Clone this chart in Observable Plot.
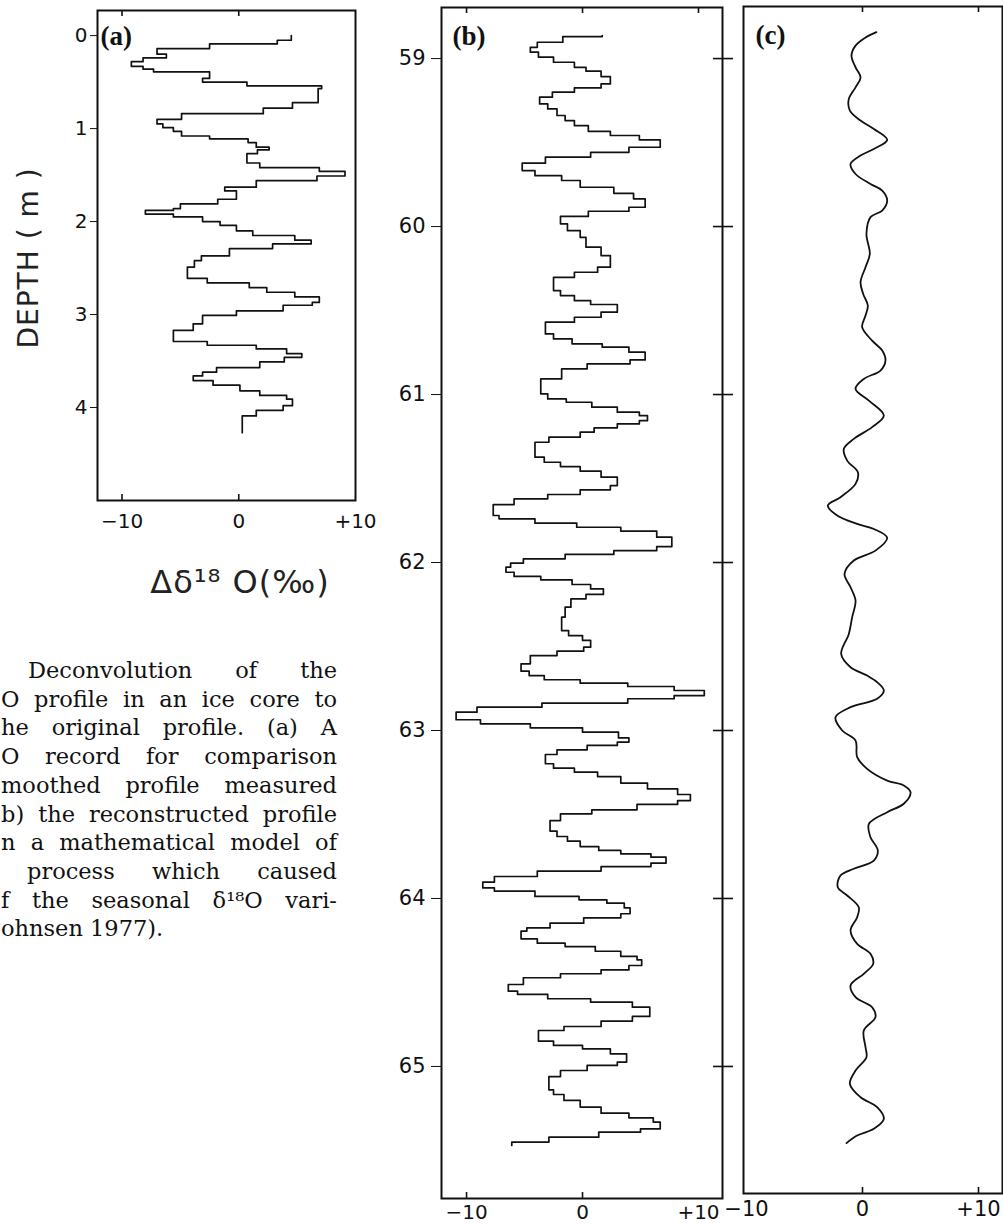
<!DOCTYPE html>
<html>
<head>
<meta charset="utf-8">
<script src="https://cdn.jsdelivr.net/npm/d3@7"></script>
<script src="https://cdn.jsdelivr.net/npm/@observablehq/plot@0.6"></script>
<style>
  html, body { margin: 0; padding: 0; background: #fff; }
  #root { position: relative; width: 1003px; height: 1225px; overflow: hidden; background: #fff; }
  .panel { position: absolute; top: 0; }
  .panel svg { overflow: visible; display: block; max-width: none !important; }
  .caption { position: absolute; left: 0; top: 0; width: 360px; height: 1225px; overflow: hidden;
             font-family: "DejaVu Serif", serif; font-size: 22.5px; color: #111; }
  .cline { position: absolute; display: flex; justify-content: space-between; white-space: nowrap; line-height: 28px; }
  .ylab { position: absolute; font-family: "DejaVu Sans", sans-serif; font-size: 28px; font-weight: 400;
          transform: translate(-50%, -50%) rotate(-90deg); white-space: nowrap; letter-spacing: 1px; color: #222; }
  .xlab { position: absolute; font-family: "DejaVu Sans", sans-serif; font-size: 32px; font-weight: 400;
          transform: translate(-50%, -50%); white-space: nowrap; color: #222; letter-spacing: 1px; }
</style>
</head>
<body>
<div id="root"></div>
<script>
// ---------------- data ----------------
// Panel (a): surface record, sample top depths (m) and Δδ18O (‰)
const depthA = [0, 0.05, 0.09, 0.14, 0.20, 0.24, 0.28, 0.33, 0.36, 0.39,
  0.46, 0.50, 0.54, 0.57, 0.72, 0.78, 0.84, 0.90, 0.95, 0.99,
  1.03, 1.08, 1.11, 1.15, 1.20, 1.23, 1.27, 1.37, 1.42, 1.46,
  1.51, 1.56, 1.63, 1.67, 1.76, 1.81, 1.86, 1.88, 1.92, 1.95,
  2.00, 2.04, 2.10, 2.15, 2.20, 2.24, 2.29, 2.37, 2.42, 2.49,
  2.61, 2.66, 2.71, 2.76, 2.81, 2.87, 2.90, 2.96, 3.01, 3.10,
  3.17, 3.29, 3.33, 3.37, 3.42, 3.46, 3.51, 3.57, 3.62, 3.66,
  3.71, 3.76, 3.82, 3.87, 3.91, 3.98, 4.03, 4.09];
const valueA = [4.5, 3.3, -2.5, -7.0, -6.2, -8.2, -9.2, -8.2, -7.3, -2.5,
  -3.1, 0.7, 7.1, 6.8, 4.6, 2.1, -4.9, -7.0, -6.5, -5.6,
  -4.9, -2.5, 0.8, 1.5, 2.6, 1.6, 0.7, 1.8, 6.9, 9.1,
  6.7, 1.5, -1.2, -0.2, -1.8, -5.0, -5.6, -8.0, -5.6, -3.1,
  -1.6, -0.2, 1.2, 4.8, 6.2, 2.9, -0.8, -3.2, -3.8, -4.4,
  -2.7, 0.9, 2.4, 4.8, 6.9, 6.3, 3.8, -0.2, -3.1, -3.9,
  -5.6, -2.7, 1.5, 4.1, 5.4, 3.9, 1.8, -1.9, -3.1, -3.9,
  -2.2, 0.1, 1.8, 4.1, 4.6, 3.8, 1.5, 0.3];
const depthAEnd = 4.27;

// Panel (b): reconstructed profile, sample top depths (m) and Δδ18O (‰)
const depthB = [58.863, 58.869, 58.903, 58.933, 58.962, 58.992, 59.022, 59.052, 59.075, 59.107,
  59.151, 59.175, 59.200, 59.230, 59.270, 59.300, 59.339, 59.369, 59.399, 59.433,
  59.458, 59.484, 59.528, 59.558, 59.587, 59.623, 59.667, 59.697, 59.726, 59.766,
  59.802, 59.835, 59.885, 59.909, 59.940, 59.984, 60.024, 60.064, 60.123, 60.173,
  60.242, 60.272, 60.302, 60.381, 60.411, 60.441, 60.464, 60.510, 60.540, 60.569,
  60.639, 60.669, 60.698, 60.718, 60.748, 60.794, 60.817, 60.847, 60.907, 60.996, 61.026,
  61.046, 61.075, 61.105, 61.125, 61.155, 61.175, 61.198, 61.224, 61.254, 61.284,
  61.373, 61.403, 61.429, 61.456, 61.492, 61.542, 61.567, 61.595, 61.621, 61.655,
  61.720, 61.740, 61.766, 61.790, 61.813, 61.849, 61.905, 61.929, 61.952, 61.978,
  62.004, 62.028, 62.058, 62.083, 62.103, 62.131, 62.157, 62.190, 62.216, 62.266,
  62.325, 62.405, 62.435, 62.464, 62.504, 62.528, 62.554, 62.603, 62.647, 62.673,
  62.698, 62.718, 62.738, 62.762, 62.792, 62.811, 62.837, 62.861, 62.891, 62.936,
  62.960, 62.984, 63.010, 63.044, 63.069, 63.089, 63.115, 63.143, 63.198, 63.224,
  63.248, 63.274, 63.313, 63.347, 63.381, 63.417, 63.440, 63.472, 63.496,
  63.536, 63.599, 63.631, 63.659, 63.691, 63.714, 63.734, 63.754, 63.790, 63.810,
  63.837, 63.869, 63.903, 63.937, 63.956, 63.988, 64.008, 64.028, 64.056, 64.091,
  64.115, 64.147, 64.175, 64.194, 64.240, 64.266, 64.286, 64.314, 64.345, 64.365,
  64.399, 64.425, 64.448, 64.472, 64.512, 64.552, 64.571, 64.597, 64.617, 64.647,
  64.702, 64.730, 64.762, 64.786, 64.849, 64.875, 64.895, 64.925, 64.974, 64.994,
  65.024, 65.060, 65.139, 65.167, 65.202, 65.242, 65.278, 65.306, 65.331, 65.371,
  65.391, 65.421, 65.450];
const valueB = [1.7, -1.7, -3.9, -4.5, -3.8, -2.5, -0.7, 0.3, 1.6, 2.4,
  1.6, -0.7, -2.6, -3.7, -3.0, -2.2, -1.5, -0.7, 0.5, 2.4,
  4.9, 6.7, 4.0, 0.7, -3.2, -5.2, -4.1, -1.8, -0.2, 2.7,
  4.4, 5.4, 4.0, 0.5, -1.9, -1.3, -0.2, 0.3, 1.6, 2.4,
  1.3, -0.7, -2.5, -1.9, -0.7, 0.7, 3.0, 1.6, -0.7, -3.2,
  -2.5, -0.9, 1.7, 4.0, 5.4, 4.1, 0.4, -1.8, -3.6, -3.0, -1.4,
  0.8, 3.0, 4.9, 5.6, 4.9, 3.0, 1.0, -0.2, -2.9, -4.1,
  -3.3, -1.9, -0.2, 1.6, 3.0, 2.4, -0.2, -3.0, -5.9, -7.7,
  -7.2, -4.1, -0.5, 3.3, 6.4, 7.7, 6.4, 2.7, -1.5, -5.1,
  -6.2, -6.6, -5.9, -3.6, -0.9, 0.7, 1.8, 0.3, -1.0, -1.5,
  -1.8, -1.2, 0.0, 0.7, 0.1, -2.2, -4.5, -5.3, -4.6, -3.3,
  -0.2, 3.9, 7.9, 10.5, 7.9, 3.9, -3.5, -9.1, -10.9, -8.8,
  -4.5, 0.0, 3.1, 4.0, 3.0, 0.4, -2.2, -3.2, -2.5, -0.7,
  1.3, 3.3, 5.6, 8.2, 9.3, 8.2, 4.7, 0.8, -1.9,
  -2.8, -2.2, -1.3, -0.2, 1.4, 3.3, 5.9, 7.2, 5.9, 1.6,
  -3.9, -7.6, -8.6, -7.6, -4.1, -0.3, 2.1, 3.6, 4.1, 3.3,
  0.1, -2.8, -4.8, -5.3, -3.9, -1.5, 1.1, 3.3, 4.7, 5.1,
  4.0, 1.6, -1.9, -5.1, -6.4, -5.6, -3.0, 0.7, 4.3, 5.8,
  4.3, 1.6, -1.6, -3.8, -2.5, 0.0, 2.4, 3.8, 3.0, 0.4,
  -1.9, -2.9, -2.5, -1.6, -0.2, 1.6, 4.0, 6.1, 6.7, 5.0,
  1.4, -2.9, -6.1];
const depthBEnd = 65.47;

// Panel (c): smoothed (measured) profile
const depthC = [58.843, 58.873, 58.923, 58.982, 59.052, 59.111, 59.171, 59.240, 59.310, 59.369,
  59.419, 59.484, 59.538, 59.577, 59.627, 59.687, 59.746, 59.786, 59.845, 59.905,
  59.944, 60.044, 60.163, 60.242, 60.331, 60.401, 60.470, 60.530, 60.599, 60.679,
  60.738, 60.798, 60.857, 60.907, 60.966, 61.036,
  61.125, 61.194, 61.264, 61.323, 61.393, 61.462, 61.532, 61.611, 61.661, 61.720,
  61.770, 61.800, 61.853, 61.929, 61.988, 62.067, 62.147, 62.226, 62.325, 62.425,
  62.544, 62.623, 62.673, 62.712, 62.762, 62.811, 62.861, 62.921, 63.000, 63.060,
  63.158, 63.228, 63.298, 63.327, 63.367, 63.436, 63.486,
  63.556, 63.635, 63.714, 63.774, 63.823, 63.863, 63.933, 63.982, 64.052, 64.111,
  64.190, 64.270, 64.329, 64.389, 64.448, 64.518, 64.587, 64.647, 64.706, 64.786,
  64.885, 64.945, 65.024, 65.103, 65.183, 65.242, 65.312, 65.371, 65.411, 65.456];
const valueC = [1.2, 0.3, -0.6, -0.95, -0.6, -0.17, -0.6, -1.18, -1.09, -0.17,
  0.98, 2.13, 0.98, -0.17, -1.03, -0.6, 0.69, 1.70, 2.13, 1.70,
  0.69, 0.34, 0.63, 0.26, -0.17, 0.06, 0.46, 0.26, -0.03, 0.83,
  1.70, 1.98, 1.55, 0.11, -0.6, 0.55,
  1.84, 0.83, -0.75, -1.61, -1.32, -0.40, -0.6, -1.90, -2.99, -2.18,
  -0.46, 0.98, 2.13, 1.12, -0.75, -1.55, -1.03, -0.6, -0.89, -1.18,
  -1.84, -1.03, 0.40, 1.26, 1.84, 1.26, -1.03, -2.33, -1.75, -0.6,
  -0.46, 0.40, 2.13, 3.56, 4.14, 3.56, 2.13,
  0.55, 0.69, 1.32, 0.98, -0.75, -1.90, -2.13, -1.32, -0.32, -0.46,
  -1.03, -0.46, 0.69, 0.92, 0.11, -1.03, -0.6, 0.83, 1.12, 0.11,
  0.26, 0.34, -0.6, -1.09, -0.17, 1.26, 1.84, 0.98, -0.46, -1.38];

// ticks and labels
const depthTicksA = [0, 1, 2, 3, 4];
const depthTicksB = [59, 60, 61, 62, 63, 64, 65];
const valueTicks = [-10, 0, 10];
const valueTickLabels = ["\u221210", "0", "+10"];
const innerTicksA = [-10, 0];
const innerTicksC = [0, 10];
const panelLabels = ["(a)", "(b)", "(c)"];
const yTitle = "DEPTH ( m )";
const xTitle = "Δδ¹⁸ O(‰)";
const captionLines = [
  "Deconvolution of the",
  "O profile in an ice core to",
  "he original profile. (a) A",
  "O record for comparison",
  "moothed profile measured",
  "b) the reconstructed profile",
  "n a mathematical model of",
  "process which caused",
  "f the seasonal δ¹⁸O vari-",
  "ohnsen 1977)."
];

// ---------------- helpers ----------------
const stepRows = (depths, values, end) =>
  depths.map((d, i) => ({d, v: values[i]})).concat([{d: end, v: values[values.length - 1]}]);
const rowsA = stepRows(depthA, valueA, depthAEnd);
const rowsB = stepRows(depthB, valueB, depthBEnd);
const rowsC = depthC.map((d, i) => ({d, v: valueC[i]}));
const tickRows = valueTicks.map((t, i) => ({t, label: valueTickLabels[i]}));

const intFmt = d => String(d);
const baseStyle = {fontFamily: "'DejaVu Sans', sans-serif", fontSize: "20px", color: "#111", background: "transparent", overflow: "visible"};
const labelText = (s, dx, dy) => Plot.text([s], {text: d => d, frameAnchor: "top-left", textAnchor: "start", lineAnchor: "middle",
  dx, dy, fontSize: 27, fontWeight: "bold", fontFamily: "'Liberation Serif', serif", letterSpacing: 3, fill: "#111"});
const innerTicks = (ticks, yDomain) => [
  Plot.ruleX(ticks, {x: d => d, y1: yDomain[0], y2: yDomain[0], insetBottom: -6, stroke: "#111", strokeWidth: 1.6}),
  Plot.ruleX(ticks, {x: d => d, y1: yDomain[1], y2: yDomain[1], insetTop: -6, stroke: "#111", strokeWidth: 1.6})
];
const bottomLabels = (yDomain, pad, size) => Plot.text(tickRows, {x: "t", y: () => yDomain[1], text: "label",
  textAnchor: "middle", lineAnchor: "top", dy: pad, fontSize: size, fill: "#111"});

// ---------------- panel (a) ----------------
const yDomA = [-0.27, 5.0];
const plotA = Plot.plot({
  width: 380, height: 540, marginLeft: 97, marginRight: 25, marginTop: 10, marginBottom: 40,
  style: baseStyle,
  x: {domain: [-12.1, 10], axis: null},
  y: {domain: yDomA, reverse: true, axis: null},
  marks: [
    Plot.axisY(depthTicksA, {anchor: "left", tickSize: 7, tickPadding: 3, tickFormat: intFmt, label: null, fontSize: 20}),
    bottomLabels(yDomA, 13, 20),
    ...innerTicks(innerTicksA, yDomA),
    Plot.frame({stroke: "#111", strokeWidth: 2}),
    Plot.line(rowsA, {x: "v", y: "d", curve: "step-before", stroke: "#111", strokeWidth: 1.7}),
    labelText(panelLabels[0], 3, 26)
  ]
});

// ---------------- panel (b) ----------------
const yDomB = [58.696, 65.786];
const plotB = Plot.plot({
  width: 360, height: 1225, marginLeft: 61, marginRight: 18, marginTop: 7, marginBottom: 27,
  style: baseStyle,
  x: {domain: [-12.16, 12.07], axis: null},
  y: {domain: yDomB, reverse: true, axis: null},
  marks: [
    Plot.axisY(depthTicksB, {anchor: "left", tickSize: 10, tickPadding: 6, tickFormat: intFmt, label: null, fontSize: 21}),
    Plot.axisY(depthTicksB, {anchor: "right", tickSize: 10, tickFormat: () => "", label: null, strokeWidth: 1.6}),
    Plot.axisY(depthTicksB, {anchor: "right", tickSize: -10, tickFormat: () => "", label: null, strokeWidth: 1.6}),
    bottomLabels(yDomB, 6, 20),
    Plot.ruleX(valueTicks, {x: d => d, y1: yDomB[0], y2: yDomB[0], insetBottom: -6, stroke: "#111", strokeWidth: 1.6}),
    Plot.ruleX(innerTicksA, {x: d => d, y1: yDomB[1], y2: yDomB[1], insetTop: -6, stroke: "#111", strokeWidth: 1.6}),
    Plot.frame({stroke: "#111", strokeWidth: 2}),
    Plot.line(rowsB, {x: "v", y: "d", curve: "step-before", stroke: "#111", strokeWidth: 1.7}),
    labelText(panelLabels[1], 11, 29)
  ]
});

// ---------------- panel (c) ----------------
const yDomC = [58.690, 65.756];
const plotC = Plot.plot({
  width: 263, height: 1225, marginLeft: 3, marginRight: 1, marginTop: 6, marginBottom: 32,
  style: baseStyle,
  x: {domain: [-10.26, 12.07], axis: null},
  y: {domain: yDomC, reverse: true, axis: null},
  marks: [
    Plot.frame({stroke: "#111", strokeWidth: 2}),
    ...innerTicks(innerTicksC, yDomC),
    Plot.line(rowsC, {x: "v", y: "d", curve: "catmull-rom", stroke: "#111", strokeWidth: 1.8}),
    labelText(panelLabels[2], 12, 29),
    bottomLabels(yDomC, 8, 21)
  ]
});

// ---------------- layout ----------------
const root = document.getElementById("root");

const cap = document.createElement("div");
cap.className = "caption";
const capLeft = [28, 1, 1, 1, 1, 1, 1, 27, 1, 1];
const capRight = 337;
captionLines.forEach((line, k) => {
  const el = document.createElement("div");
  el.className = "cline";
  el.style.left = capLeft[k] + "px";
  el.style.top = (672 + 28.7 * k - 16) + "px";
  if (k < captionLines.length - 1) {
    el.style.width = (capRight - capLeft[k]) + "px";
    line.split(" ").forEach(w => { const s = document.createElement("span"); s.textContent = w; el.appendChild(s); });
  } else {
    el.textContent = line;
  }
  cap.appendChild(el);
});
root.appendChild(cap);

const place = (svg, left) => {
  const wrap = document.createElement("div");
  wrap.className = "panel";
  wrap.style.left = left + "px";
  wrap.appendChild(svg);
  root.appendChild(wrap);
};
place(plotA, 0);
place(plotB, 380);
place(plotC, 740);

const yl = document.createElement("div");
yl.className = "ylab"; yl.style.left = "28px"; yl.style.top = "258px"; yl.textContent = yTitle;
root.appendChild(yl);
const xl = document.createElement("div");
xl.className = "xlab"; xl.style.left = "240px"; xl.style.top = "582px"; xl.textContent = xTitle;
root.appendChild(xl);
</script>
</body>
</html>
